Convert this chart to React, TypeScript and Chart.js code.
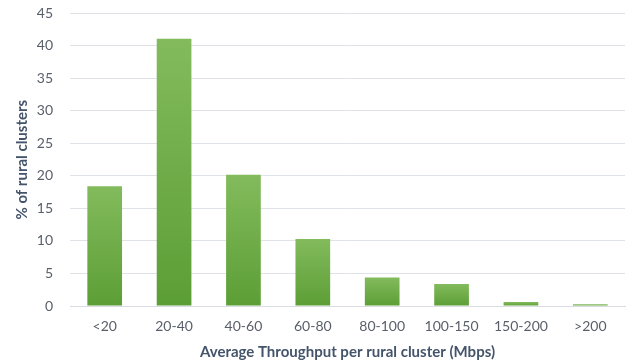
import React, { useEffect, useRef } from "react";
import { Chart, registerables } from "chart.js";

Chart.register(...registerables);

const categories = ["<20", "20-40", "40-60", "60-80", "80-100", "100-150", "150-200", ">200"];
const shares = [18.4, 41.1, 20.2, 10.3, 4.4, 3.4, 0.6, 0.25];
const yTicks = [0, 5, 10, 15, 20, 25, 30, 35, 40, 45];

export default function App() {
  const ref = useRef<HTMLCanvasElement | null>(null);
  useEffect(() => {
    document.body.style.margin = "0";
    document.body.style.overflow = "hidden";
    const ctx = ref.current!.getContext("2d")!;
    const font = "Lato, 'Open Sans', sans-serif";
    const chart = new Chart(ctx, {
      type: "bar",
      data: {
        labels: categories,
        datasets: [
          {
            data: shares,
            barPercentage: 0.5,
            categoryPercentage: 1,
            borderWidth: 0,
            backgroundColor: (c: any) => {
              const ch = c.chart;
              const y = ch.scales?.y;
              if (!y || c.raw == null) return "#6aab45";
              const top = y.getPixelForValue(c.raw);
              const bot = y.getPixelForValue(0);
              if (!isFinite(top) || !isFinite(bot) || bot - top < 1) return "#6aab45";
              const g = ch.ctx.createLinearGradient(0, top, 0, bot);
              g.addColorStop(0, "#83bb5c");
              g.addColorStop(1, "#5c9e36");
              return g;
            },
          },
        ],
      },
      options: {
        animation: false,
        responsive: true,
        maintainAspectRatio: false,
        layout: { padding: { top: 0, right: 7, left: 12, bottom: 0 } },
        plugins: { legend: { display: false }, tooltip: { enabled: false } },
        scales: {
          x: {
            afterFit: (axis: any) => {
              axis.height = 58;
            },
            grid: { display: false, drawTicks: false },
            border: { display: true, color: "#d9dde3", width: 1 },
            ticks: { color: "#595f6a", font: { family: font, size: 14 }, padding: 12 },
            title: {
              display: true,
              text: "Average Throughput per rural cluster (Mbps)",
              color: "#44546a",
              font: { family: font, size: 15, weight: "bold" },
              padding: { top: 4, bottom: 3 },
            },
          },
          y: {
            min: 0,
            max: 45,
            afterBuildTicks: (axis: any) => {
              axis.ticks = yTicks.map((v) => ({ value: v }));
            },
            afterFit: (axis: any) => {
              axis.width = 58;
            },
            grid: { color: "#dfe3e8", lineWidth: 1, drawTicks: false },
            border: { display: false },
            ticks: { color: "#595f6a", font: { family: font, size: 14 }, padding: 17 },
            title: {
              display: true,
              text: "% of rural clusters",
              color: "#44546a",
              font: { family: font, size: 15, weight: "bold" },
              padding: { top: 1, bottom: 0 },
            },
          },
        },
      },
    });
    return () => chart.destroy();
  }, []);
  return (
    <div style={{ position: "relative", width: 632, height: 376, marginTop: -12 }}>
      <canvas ref={ref} />
    </div>
  );
}
